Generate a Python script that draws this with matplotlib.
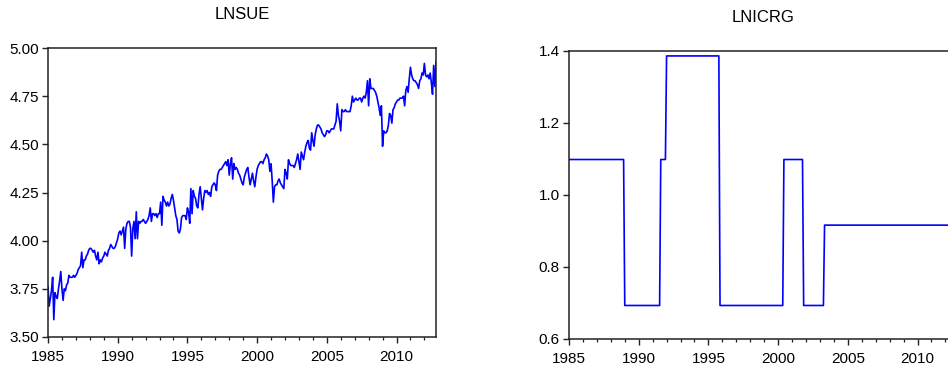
import numpy as np
import matplotlib.pyplot as plt
from matplotlib.ticker import MultipleLocator, FormatStrFormatter

# monthly data, 1985M01 - 2012M11
start_year = 1985

lnsue = [
    3.76, 3.66, 3.70, 3.74, 3.81, 3.59, 3.73, 3.71, 3.70, 3.75, 3.79, 3.84,  # 1985
    3.75, 3.69, 3.75, 3.74, 3.77, 3.78, 3.82, 3.81, 3.81, 3.81, 3.82, 3.81,  # 1986
    3.82, 3.83, 3.85, 3.86, 3.87, 3.94, 3.86, 3.90, 3.90, 3.92, 3.93, 3.95,  # 1987
    3.96, 3.96, 3.95, 3.94, 3.95, 3.92, 3.90, 3.94, 3.88, 3.90, 3.89, 3.91,  # 1988
    3.92, 3.94, 3.93, 3.92, 3.95, 3.96, 3.98, 3.97, 3.96, 3.96, 3.97, 3.99,  # 1989
    4.01, 4.04, 4.05, 4.03, 4.05, 4.07, 3.96, 4.06, 4.09, 4.10, 4.10, 4.07,  # 1990
    3.92, 4.06, 4.10, 4.01, 4.15, 4.01, 4.10, 4.09, 4.10, 4.10, 4.11, 4.10,  # 1991
    4.09, 4.10, 4.11, 4.13, 4.17, 4.10, 4.14, 4.14, 4.13, 4.14, 4.12, 4.14,  # 1992
    4.14, 4.20, 4.08, 4.23, 4.21, 4.20, 4.18, 4.20, 4.18, 4.19, 4.22, 4.24,  # 1993
    4.21, 4.17, 4.13, 4.11, 4.05, 4.04, 4.06, 4.12, 4.13, 4.13, 4.13, 4.11,  # 1994
    4.17, 4.15, 4.09, 4.27, 4.14, 4.26, 4.23, 4.22, 4.18, 4.17, 4.24, 4.28,  # 1995
    4.22, 4.16, 4.22, 4.26, 4.25, 4.26, 4.24, 4.25, 4.23, 4.28, 4.29, 4.30,  # 1996
    4.29, 4.26, 4.34, 4.36, 4.37, 4.37, 4.38, 4.39, 4.40, 4.41, 4.39, 4.42,  # 1997
    4.34, 4.40, 4.43, 4.32, 4.40, 4.37, 4.38, 4.37, 4.35, 4.34, 4.32, 4.30,  # 1998
    4.29, 4.33, 4.35, 4.37, 4.38, 4.33, 4.29, 4.32, 4.35, 4.31, 4.28, 4.33,  # 1999
    4.37, 4.39, 4.40, 4.41, 4.41, 4.40, 4.42, 4.43, 4.45, 4.44, 4.42, 4.36,  # 2000
    4.40, 4.31, 4.20, 4.28, 4.29, 4.29, 4.31, 4.32, 4.30, 4.29, 4.28, 4.27,  # 2001
    4.37, 4.35, 4.32, 4.42, 4.40, 4.39, 4.39, 4.39, 4.38, 4.40, 4.42, 4.45,  # 2002
    4.41, 4.37, 4.46, 4.44, 4.42, 4.46, 4.49, 4.51, 4.52, 4.48, 4.47, 4.56,  # 2003
    4.52, 4.49, 4.55, 4.58, 4.60, 4.60, 4.59, 4.58, 4.56, 4.55, 4.54, 4.55,  # 2004
    4.57, 4.57, 4.56, 4.57, 4.58, 4.58, 4.58, 4.60, 4.62, 4.71, 4.65, 4.62,  # 2005
    4.57, 4.68, 4.67, 4.67, 4.68, 4.67, 4.67, 4.67, 4.67, 4.70, 4.75, 4.72,  # 2006
    4.73, 4.74, 4.73, 4.73, 4.74, 4.74, 4.72, 4.74, 4.75, 4.74, 4.77, 4.83,  # 2007
    4.70, 4.84, 4.79, 4.79, 4.79, 4.78, 4.77, 4.75, 4.72, 4.69, 4.65, 4.70,  # 2008
    4.49, 4.57, 4.56, 4.56, 4.57, 4.60, 4.66, 4.65, 4.61, 4.68, 4.69, 4.71,  # 2009
    4.72, 4.73, 4.73, 4.74, 4.74, 4.74, 4.75, 4.70, 4.78, 4.80, 4.77, 4.84,  # 2010
    4.90, 4.86, 4.84, 4.83, 4.83, 4.82, 4.81, 4.79, 4.83, 4.84, 4.87, 4.86,  # 2011
    4.92, 4.86, 4.85, 4.86, 4.84, 4.87, 4.82, 4.76, 4.91, 4.80, 4.93,        # 2012
]

# LNICRG is a step series: value of each run and its length in months
icrg_values = [1.0986, 0.6931, 1.0986, 1.3863, 0.6931, 1.0986, 0.6931, 0.9163]
icrg_months = [48, 31, 5, 46, 55, 17, 18, 115]
lnicrg = np.repeat(icrg_values, icrg_months)

t = start_year + np.arange(len(lnsue)) / 12.0

plt.rcParams["font.family"] = ["Liberation Sans", "DejaVu Sans"]

fig = plt.figure(figsize=(9.48, 3.70), dpi=100)
ax1 = fig.add_axes([48 / 948, 33 / 370, 388 / 948, 289 / 370])
ax2 = fig.add_axes([569 / 948, 31 / 370, 388 / 948, 288 / 370])


def style(ax, title):
    ax.set_xlim(t[0], t[-1])
    ax.xaxis.set_major_locator(MultipleLocator(5))
    ax.xaxis.set_minor_locator(MultipleLocator(1))
    ax.xaxis.set_major_formatter(FormatStrFormatter("%d"))
    ax.tick_params(axis="both", which="major", direction="out", length=4.5,
                   width=1.0, labelsize=11, color="#222222", pad=2)
    ax.tick_params(axis="x", which="minor", direction="out", length=2.5,
                   width=0.9, color="#222222")
    ax.tick_params(axis="x", which="major", pad=5)
    for s in ax.spines.values():
        s.set_linewidth(1.1)
        s.set_color("#222222")
    ax.set_title(title, fontsize=12, pad=21)


ax1.plot(t, lnsue, color="#0000ff", lw=1.2)
ax1.set_ylim(3.5, 5.0)
ax1.yaxis.set_major_locator(MultipleLocator(0.25))
ax1.yaxis.set_major_formatter(FormatStrFormatter("%.2f"))
style(ax1, "LNSUE")

ax2.plot(t, lnicrg, color="#0000ff", lw=1.2)
ax2.set_ylim(0.6, 1.4)
ax2.yaxis.set_major_locator(MultipleLocator(0.2))
ax2.yaxis.set_major_formatter(FormatStrFormatter("%.1f"))
style(ax2, "LNICRG")

fig.savefig("out.png", dpi=100)
